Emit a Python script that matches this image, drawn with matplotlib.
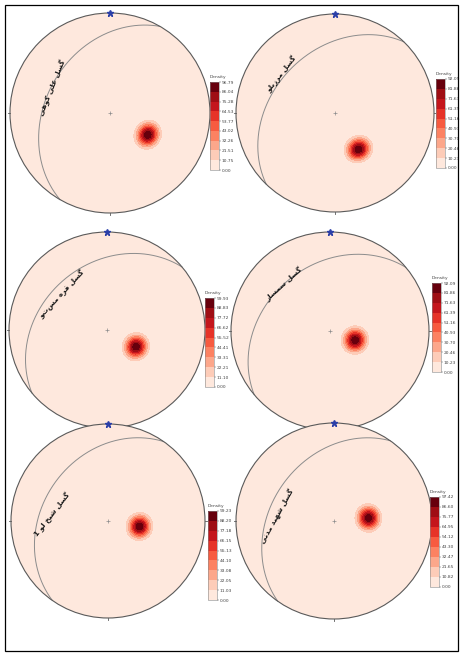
import numpy as np
import matplotlib
matplotlib.use("Agg")
import matplotlib.pyplot as plt
from matplotlib.colors import ListedColormap
from matplotlib.patches import Circle, Rectangle

# ---- data -------------------------------------------------------------
fault_names = ["گسل علی کوهی", "گسل مرزبلو", "گسل قره مستو",
               "گسل سمسار", "گسل شیخ لو 1", "گسل شهید مدنی"]
# fault planes: dip direction / dip (degrees)
plane_dipdir = [300, 314, 320, 320, 305, 305]
plane_dip = [36, 37, 33, 34, 33, 36]
# density maximum: trend / plunge (degrees)
peak_trend = [120, 147, 120, 110, 100, 85]
peak_plunge = [54, 54, 62, 68, 63, 61]
# colour bar maxima
density_max = [96.79, 92.09, 99.93, 92.09, 99.23, 97.42]

# ---- layout (pixels) ---------------------------------------------------
W, H = 463, 658
centers = [(110, 113, 100), (335, 113, 99), (107, 330, 98),
           (330, 331, 99), (108, 521, 97), (334, 521, 98)]
cbar_boxes = [(210, 82, 9, 88), (436, 79, 9, 89), (205, 298, 9, 89),
              (432, 283, 9, 89), (208, 511, 9, 89), (430, 497, 9, 90)]
label_pos = [(52, 88, 68), (282, 74, 52), (62, 294, 47),
             (284, 284, 42), (52, 514, 52), (277, 516, 61)]

# ---- minimal Persian shaping for presentation-form glyphs ---------------
FORMS = {
    "ا": ("\uFE8D", "\uFE8E", None, None),
    "ب": ("\uFE8F", "\uFE90", "\uFE91", "\uFE92"),
    "خ": ("\uFEA5", "\uFEA6", "\uFEA7", "\uFEA8"),
    "د": ("\uFEA9", "\uFEAA", None, None),
    "ر": ("\uFEAD", "\uFEAE", None, None),
    "ز": ("\uFEAF", "\uFEB0", None, None),
    "س": ("\uFEB1", "\uFEB2", "\uFEB3", "\uFEB4"),
    "ش": ("\uFEB5", "\uFEB6", "\uFEB7", "\uFEB8"),
    "ع": ("\uFEC9", "\uFECA", "\uFECB", "\uFECC"),
    "ق": ("\uFED5", "\uFED6", "\uFED7", "\uFED8"),
    "ل": ("\uFEDD", "\uFEDE", "\uFEDF", "\uFEE0"),
    "م": ("\uFEE1", "\uFEE2", "\uFEE3", "\uFEE4"),
    "ن": ("\uFEE5", "\uFEE6", "\uFEE7", "\uFEE8"),
    "ه": ("\uFEE9", "\uFEEA", "\uFEEB", "\uFEEC"),
    "و": ("\uFEED", "\uFEEE", None, None),
    "ک": ("\uFB8E", "\uFB8F", "\uFB90", "\uFB91"),
    "گ": ("\uFB92", "\uFB93", "\uFB94", "\uFB95"),
    "ی": ("\uFBFC", "\uFBFD", "\uFBFE", "\uFBFF"),
}


def shape(text):
    out = []
    for i, ch in enumerate(text):
        if ch not in FORMS:
            out.append(ch)
            continue
        iso, fin, ini, med = FORMS[ch]
        prev = text[i - 1] if i > 0 else ""
        nxt = text[i + 1] if i + 1 < len(text) else ""
        join_prev = prev in FORMS and FORMS[prev][2] is not None
        join_next = ini is not None and nxt in FORMS
        if join_prev and join_next:
            out.append(med)
        elif join_prev:
            out.append(fin)
        elif join_next:
            out.append(ini)
        else:
            out.append(iso)
    return "".join(reversed(out))


# ---- stereonet helpers -------------------------------------------------
def vec(trend, plunge):
    t, p = np.radians(trend), np.radians(plunge)
    return np.array([np.cos(p) * np.cos(t), np.cos(p) * np.sin(t), np.sin(p)])


def project(v):
    v = np.where(v[2] < 0, -v, v)
    plunge = np.arcsin(np.clip(v[2], -1, 1))
    trend = np.arctan2(v[1], v[0])
    r = np.sqrt(2) * np.sin((np.pi / 2 - plunge) / 2)
    return r * np.sin(trend), r * np.cos(trend)


cmap = ListedColormap(plt.cm.Reds(np.linspace(0.08, 1.0, 9)))
base_color = cmap(0)

fig = plt.figure(figsize=(W / 100, H / 100), dpi=100)
fig.patch.set_facecolor("white")
fig.add_artist(Rectangle((5 / W, 1 - 651 / H), 453 / W, 646 / H,
                         transform=fig.transFigure, fill=False,
                         edgecolor="black", linewidth=0.9))

g = np.linspace(-1, 1, 401)
X, Y = np.meshgrid(g, g)
R = np.hypot(X, Y)
pl = np.pi / 2 - 2 * np.arcsin(np.clip(R / np.sqrt(2), 0, 1))
tr = np.arctan2(X, Y)
grid_vec = np.stack([np.cos(pl) * np.cos(tr), np.cos(pl) * np.sin(tr), np.sin(pl)])

for i in range(6):
    cx, cy, r = centers[i]
    ax = fig.add_axes([(cx - r) / W, 1 - (cy + r) / H, 2 * r / W, 2 * r / H])
    ax.set_xlim(-1, 1)
    ax.set_ylim(-1, 1)
    ax.set_aspect("equal")
    ax.axis("off")

    ax.add_patch(Circle((0, 0), 1, facecolor=base_color, edgecolor="none", zorder=0))

    pole = vec(peak_trend[i], peak_plunge[i])
    cosang = np.tensordot(pole, grid_vec, axes=1)
    dens = density_max[i] * np.exp(110 * (cosang - 1))
    dens = np.ma.masked_where(R > 0.995, dens)
    levels = np.linspace(0, density_max[i], 10)
    cs = ax.contourf(X, Y, dens, levels=levels, cmap=cmap, zorder=1)

    # great circle of the fault plane
    a = vec(plane_dipdir[i] - 90, 0)
    b = vec(plane_dipdir[i], plane_dip[i])
    th = np.linspace(0, np.pi, 300)
    pts = np.outer(a, np.cos(th)) + np.outer(b, np.sin(th))
    gx, gy = project(pts)
    ax.plot(gx, gy, color="#8c8c8c", lw=0.7, zorder=3)

    ax.add_patch(Circle((0, 0), 1, facecolor="none", edgecolor="#5a5a5a",
                        lw=0.8, zorder=4, clip_on=False))
    ax.plot([0], [0], marker="+", ms=3, color="#8c8c8c", mew=0.5, zorder=5)
    for ang in (0, 90, 180, 270):
        s, c = np.sin(np.radians(ang)), np.cos(np.radians(ang))
        ax.plot([s, 1.025 * s], [c, 1.025 * c], color="#5a5a5a", lw=0.6,
                clip_on=False, zorder=5)
    ax.plot([0], [1.0], marker="*", ms=4.5, color="#2b3fa8", clip_on=False, zorder=6)

    lx, ly, rot = label_pos[i]
    fig.text(lx / W, 1 - ly / H, shape(fault_names[i]), rotation=rot,
             ha="center", va="center", fontsize=5.2, fontweight="bold",
             family=["DejaVu Sans"], color="#1a1a1a",
             rotation_mode="anchor")

    bx, by, bw, bh = cbar_boxes[i]
    cax = fig.add_axes([bx / W, 1 - (by + bh) / H, bw / W, bh / H])
    cb = fig.colorbar(cs, cax=cax, ticks=levels, format="%.2f")
    cb.outline.set_linewidth(0.4)
    cb.outline.set_edgecolor("#888888")
    cax.tick_params(labelsize=3.2, length=1.2, width=0.3, pad=0.8, colors="#444444")
    cax.text(0.0, 1.03, "Density", transform=cax.transAxes, fontsize=3.2,
             ha="left", va="bottom", color="#444444")

fig.savefig("out.png", dpi=100, facecolor="white")
